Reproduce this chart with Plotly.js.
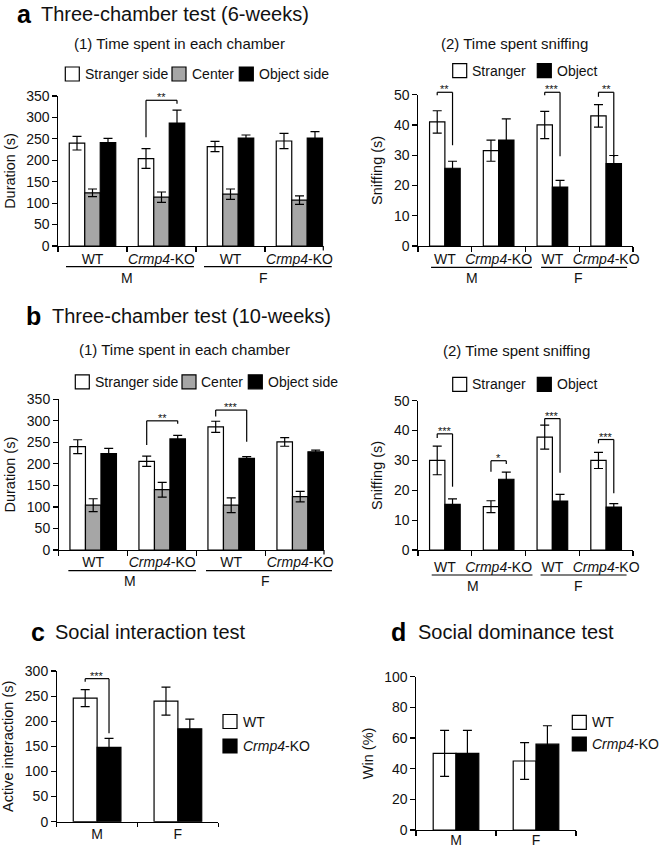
<!DOCTYPE html>
<html><head><meta charset="utf-8">
<script src="https://cdn.plot.ly/plotly-3.0.1.min.js"></script>
<style>html,body{margin:0;padding:0;background:#fff}</style>
</head><body><div id="chart" style="width:660px;height:847px"></div>
<script>
// ---------------- data ----------------
const chamberCats = ['M-WT', 'M-KO', 'F-WT', 'F-KO'];
const chamberTickText = ['WT', '<i>Crmp4</i>-KO', 'WT', '<i>Crmp4</i>-KO'];
const sexCats = ['M', 'F'];
const sexLabels = ['M', 'F'];

// a (1) Time spent in each chamber, 6 weeks
const a1Stranger = [240, 204, 232, 245];
const a1StrangerErr = [16, 23, 12, 18];
const a1Center = [124, 114, 121, 107];
const a1CenterErr = [9, 12, 12, 10];
const a1Object = [241, 287, 252, 252];
const a1ObjectErr = [10, 30, 7, 15];

// a (2) Time spent sniffing, 6 weeks
const a2Stranger = [41, 31.5, 40, 43];
const a2StrangerErr = [3.7, 3.5, 4.5, 3.7];
const a2Object = [25.7, 35, 19.5, 27.2];
const a2ObjectErr = [2.3, 7, 2.2, 2.7];

// b (1) Time spent in each chamber, 10 weeks
const b1Stranger = [240, 206, 286, 251];
const b1StrangerErr = [16, 12, 13, 10];
const b1Center = [104, 140, 104, 124];
const b1CenterErr = [15, 17, 17, 12];
const b1Object = [224, 258, 213, 228];
const b1ObjectErr = [12, 8, 4, 4];

// b (2) Time spent sniffing, 10 weeks
const b2Stranger = [30, 14.5, 37.8, 30];
const b2StrangerErr = [4.8, 2, 4, 2.7];
const b2Object = [15.3, 23.7, 16.4, 14.4];
const b2ObjectErr = [1.8, 2.4, 2.2, 1.1];

// c Social interaction test
const cWT = [246, 240];
const cWTErr = [17, 28];
const cKO = [148, 185];
const cKOErr = [18, 19];

// d Social dominance test
const dWT = [50, 45];
const dWTErr = [15, 12];
const dKO = [50, 56];
const dKOErr = [15, 12];

// ---------------- layout helpers ----------------
const W = 660, H = 847;
const FONT = 'Liberation Sans, Arial, sans-serif';
const INK = '#111';
const GRAY = '#a6a6a6';
const PX = x => x / W;
const PY = y => 1 - y / H;

const panels = {
  a1: {xa: 'x',  ya: 'y',  xr: [-0.5, 3.345], ymax: 350, dtick: 50, xd: [58, 323.3], yd: [96, 246],   w: 0.2246, n: 3, title: 'Duration (s)', tls: 0, endTick: true},
  a2: {xa: 'x2', ya: 'y2', xr: [-0.5, 3.5],   ymax: 50,  dtick: 10, xd: [418, 633],   yd: [94.7, 246], w: 0.285,  n: 2, title: 'Sniffing (s)', tls: 0},
  b1: {xa: 'x3', ya: 'y3', xr: [-0.5, 3.345], ymax: 350, dtick: 50, xd: [58.7, 324],  yd: [399.3, 550], w: 0.2246, n: 3, title: 'Duration (s)', tls: -1, endTick: true},
  b2: {xa: 'x4', ya: 'y4', xr: [-0.5, 3.5],   ymax: 50,  dtick: 10, xd: [418, 633],   yd: [400.7, 550], w: 0.285,  n: 2, title: 'Sniffing (s)', tls: 4},
  c:  {xa: 'x5', ya: 'y5', xr: [-0.5, 1.5],   ymax: 300, dtick: 50, xd: [56.7, 218.3], yd: [671, 821.7], w: 0.295, n: 2, title: 'Active interaction (s)', tls: -1},
  d:  {xa: 'x6', ya: 'y6', xr: [-0.5, 1.5],   ymax: 100, dtick: 20, xd: [416, 576],   yd: [676.7, 830], w: 0.285,  n: 2, title: 'Win (%)', tls: -3}
};

function offsetOf(p, i) { return -p.n * p.w / 2 + i * p.w; }
function barCenter(p, cat, i) { return cat + offsetOf(p, i) + p.w / 2; }
function xDom(p, v) { return (v - p.xr[0]) / (p.xr[1] - p.xr[0]); }

const traces = [];
function bars(pk, cats, vals, errs, color, i, name) {
  const p = panels[pk];
  traces.push({
    type: 'bar', name: name, x: cats, y: vals,
    xaxis: p.xa, yaxis: p.ya, width: p.w, offset: offsetOf(p, i),
    marker: {color: color, line: {color: '#000', width: 1.2}},
    error_y: {type: 'data', array: errs, visible: true, color: '#000', thickness: 1.2, width: 4.5},
    showlegend: false, hoverinfo: 'x+y'
  });
}

bars('a1', chamberCats, a1Stranger, a1StrangerErr, '#fff', 0, 'Stranger side');
bars('a1', chamberCats, a1Center, a1CenterErr, GRAY, 1, 'Center');
bars('a1', chamberCats, a1Object, a1ObjectErr, '#000', 2, 'Object side');
bars('a2', chamberCats, a2Stranger, a2StrangerErr, '#fff', 0, 'Stranger');
bars('a2', chamberCats, a2Object, a2ObjectErr, '#000', 1, 'Object');
bars('b1', chamberCats, b1Stranger, b1StrangerErr, '#fff', 0, 'Stranger side');
bars('b1', chamberCats, b1Center, b1CenterErr, GRAY, 1, 'Center');
bars('b1', chamberCats, b1Object, b1ObjectErr, '#000', 2, 'Object side');
bars('b2', chamberCats, b2Stranger, b2StrangerErr, '#fff', 0, 'Stranger');
bars('b2', chamberCats, b2Object, b2ObjectErr, '#000', 1, 'Object');
bars('c', sexCats, cWT, cWTErr, '#fff', 0, 'WT');
bars('c', sexCats, cKO, cKOErr, '#000', 1, 'Crmp4-KO');
bars('d', sexCats, dWT, dWTErr, '#fff', 0, 'WT');
bars('d', sexCats, dKO, dKOErr, '#000', 1, 'Crmp4-KO');

const layout = {
  width: W, height: H, margin: {l: 0, r: 0, t: 0, b: 0},
  paper_bgcolor: '#fff', plot_bgcolor: 'rgba(0,0,0,0)',
  barmode: 'overlay', showlegend: false,
  font: {family: FONT, color: INK, size: 14},
  shapes: [], annotations: []
};

Object.keys(panels).forEach(k => {
  const p = panels[k];
  const xn = p.xa === 'x' ? '' : p.xa.slice(1);
  const yn = p.ya === 'y' ? '' : p.ya.slice(1);
  const isChamber = (k !== 'c' && k !== 'd');
  layout['xaxis' + xn] = {
    domain: [PX(p.xd[0]), PX(p.xd[1])], anchor: p.ya, type: 'category',
    range: p.xr, showline: true, linecolor: '#000', linewidth: 1.2,
    ticks: 'outside', tickson: 'boundaries', ticklen: 4.5, tickwidth: 1.2, tickcolor: '#000',
    tickmode: 'array', tickangle: 0,
    tickvals: isChamber ? chamberCats : sexCats,
    ticktext: isChamber ? chamberTickText : sexLabels,
    tickfont: {size: 14, family: FONT, color: INK},
    ticklabelstandoff: p.tls,
    showgrid: false, zeroline: false, fixedrange: true, automargin: false
  };
  layout['yaxis' + yn] = {
    domain: [PY(p.yd[1]), PY(p.yd[0])], anchor: p.xa,
    range: [0, p.ymax], dtick: p.dtick, tick0: 0,
    showline: true, linecolor: '#000', linewidth: 1.2,
    ticks: 'outside', ticklen: 4.5, tickwidth: 1.2, tickcolor: '#000',
    tickfont: {size: 14, family: FONT, color: INK},
    showgrid: false, zeroline: false, fixedrange: true, automargin: false,
    title: {text: p.title, font: {size: 14.5, family: FONT, color: INK}, standoff: 7}
  };
  if (p.endTick) {
    layout.shapes.push({type: 'line', xref: p.xa + ' domain', yref: p.ya + ' domain',
      ysizemode: 'pixel', yanchor: 0, x0: 1, x1: 1, y0: 0, y1: -4.5,
      line: {color: '#000', width: 1.2}});
  }
});

// ---- significance brackets (positions in data units) ----
const sig = [
  {pk: 'a1', cat: 1, i1: 0, i2: 2, top: 340, left: 254, right: 332, label: '**'},
  {pk: 'a2', cat: 0, i1: 0, i2: 1, top: 50.8, left: 49.8, right: 33.3, label: '**'},
  {pk: 'a2', cat: 2, i1: 0, i2: 1, top: 50.8, left: 49.8, right: 29.7, label: '***'},
  {pk: 'a2', cat: 3, i1: 0, i2: 1, top: 50.8, left: 49.3, right: 29.4, label: '**'},
  {pk: 'b1', cat: 1, i1: 0, i2: 2, top: 300, left: 244, right: 293, label: '**'},
  {pk: 'b1', cat: 2, i1: 0, i2: 2, top: 325, left: 310, right: 251.6, label: '***'},
  {pk: 'b2', cat: 0, i1: 0, i2: 1, top: 38.9, left: 37.5, right: 21.2, label: '***'},
  {pk: 'b2', cat: 1, i1: 0, i2: 1, top: 29.9, left: 26.2, right: 28.8, label: '*'},
  {pk: 'b2', cat: 2, i1: 0, i2: 1, top: 44, left: 41.9, right: 25.9, label: '***'},
  {pk: 'b2', cat: 3, i1: 0, i2: 1, top: 37, left: 35.7, right: 19, label: '***'},
  {pk: 'c', cat: 0, i1: 0, i2: 1, top: 284.8, left: 278.8, right: 176, label: '***'}
];
sig.forEach(s => {
  const p = panels[s.pk];
  const xr = p.xa + ' domain', yr = p.ya + ' domain';
  const x1 = xDom(p, barCenter(p, s.cat, s.i1));
  const x2 = xDom(p, barCenter(p, s.cat, s.i2));
  const yt = s.top / p.ymax, yl = s.left / p.ymax, yrr = s.right / p.ymax;
  const ln = {color: '#000', width: 1.2};
  layout.shapes.push({type: 'line', xref: xr, yref: yr, x0: x1, x1: x2, y0: yt, y1: yt, line: ln});
  layout.shapes.push({type: 'line', xref: xr, yref: yr, x0: x1, x1: x1, y0: yt, y1: yl, line: ln});
  layout.shapes.push({type: 'line', xref: xr, yref: yr, x0: x2, x1: x2, y0: yt, y1: yrr, line: ln});
  layout.annotations.push({xref: xr, yref: yr, x: (x1 + x2) / 2, y: yt, text: s.label,
    showarrow: false, xanchor: 'center', yanchor: 'middle', yshift: 3,
    font: {size: 11, family: FONT, color: INK}});
});

// ---- sex grouping underlines (category units) and labels ----
const groupLines = [
  {pk: 'a1', y: 266.7, ly: 277.7, segs: [[-0.384, 1.47, 0.496, 'M'], [1.616, 3.467, 2.475, 'F']]},
  {pk: 'a2', y: 267.3, ly: 278.3, segs: [[-0.257, 1.62, 0.50, 'M'], [1.79, 3.39, 2.48, 'F']]},
  {pk: 'b1', y: 570.7, ly: 580.7, segs: [[-0.36, 1.49, 0.53, 'M'], [1.635, 3.46, 2.49, 'F']]},
  {pk: 'b2', y: 575, ly: 586, segs: [[-0.245, 1.63, 0.52, 'M'], [1.78, 3.38, 2.48, 'F']]}
];
groupLines.forEach(g => {
  const p = panels[g.pk];
  const xr = p.xa + ' domain';
  g.segs.forEach(s => {
    layout.shapes.push({type: 'line', xref: xr, yref: 'paper', x0: xDom(p, s[0]), x1: xDom(p, s[1]),
      y0: PY(g.y), y1: PY(g.y), line: {color: '#000', width: 1.2}});
    layout.annotations.push({xref: xr, yref: 'paper', x: xDom(p, s[2]), y: PY(g.ly), text: s[3],
      showarrow: false, xanchor: 'center', yanchor: 'middle', font: {size: 14, family: FONT, color: INK}});
  });
});

// ---- legends (drawn) ----
const legends = [
  {y: 74, items: [[65.3, '#fff', 'Stranger side'], [172, GRAY, 'Center'], [239.3, '#000', 'Object side']]},
  {y: 70.7, items: [[452.7, '#fff', 'Stranger'], [537.3, '#000', 'Object']]},
  {y: 381.8, items: [[75.3, '#fff', 'Stranger side'], [182, GRAY, 'Center'], [248.3, '#000', 'Object side']]},
  {y: 384.3, items: [[452.7, '#fff', 'Stranger'], [537.3, '#000', 'Object']]}
];
function legendItem(x, y, color, text) {
  layout.shapes.push({type: 'rect', xref: 'paper', yref: 'paper', x0: PX(x), x1: PX(x + 14),
    y0: PY(y - 7), y1: PY(y + 7), fillcolor: color, line: {color: '#000', width: 1.2}});
  layout.annotations.push({xref: 'paper', yref: 'paper', x: PX(x + 17.5), y: PY(y), text: text,
    showarrow: false, xanchor: 'left', yanchor: 'middle', font: {size: 14, family: FONT, color: INK}});
}
legends.forEach(l => l.items.forEach(it => legendItem(it[0], l.y, it[1], it[2])));
legendItem(223, 721.5, '#fff', 'WT');
legendItem(223, 746, '#000', '<i>Crmp4</i>-KO');
legendItem(572.3, 722.3, '#fff', 'WT');
legendItem(572.3, 744, '#000', '<i>Crmp4</i>-KO');

// ---- titles ----
function title(letterX, textX, y, letter, text) {
  layout.annotations.push({xref: 'paper', yref: 'paper', x: PX(letterX), y: PY(y), text: '<b>' + letter + '</b>',
    showarrow: false, xanchor: 'left', yanchor: 'middle', font: {size: 25, family: FONT, color: '#000'}});
  layout.annotations.push({xref: 'paper', yref: 'paper', x: PX(textX), y: PY(y), text: text,
    showarrow: false, xanchor: 'left', yanchor: 'middle', font: {size: 20, family: FONT, color: INK}});
}
title(15, 39, 14, 'a', 'Three-chamber test (6-weeks)');
title(24, 50, 316, 'b', 'Three-chamber test (10-weeks)');
title(29, 53, 632, 'c', 'Social interaction test');
title(389, 416, 632, 'd', 'Social dominance test');

function subtitle(x, y, text) {
  layout.annotations.push({xref: 'paper', yref: 'paper', x: PX(x), y: PY(y), text: text,
    showarrow: false, xanchor: 'center', yanchor: 'middle', font: {size: 15, family: FONT, color: INK}});
}
subtitle(179.7, 43, '(1) Time spent in each chamber');
subtitle(514, 43, '(2) Time spent sniffing');
subtitle(184.7, 350, '(1) Time spent in each chamber');
subtitle(516, 350.7, '(2) Time spent sniffing');

Plotly.newPlot('chart', traces, layout, {displayModeBar: false, staticPlot: true});
</script>
</body></html>
